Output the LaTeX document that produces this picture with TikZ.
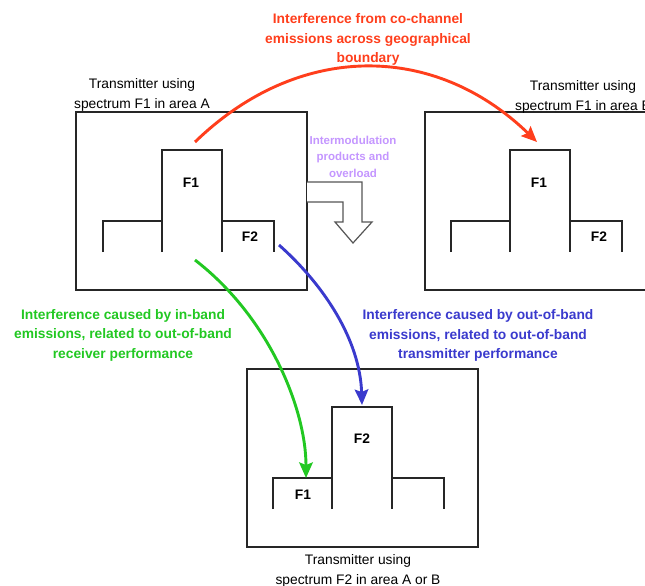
\documentclass[tikz,border=0pt]{standalone}
\usepackage{fontspec}
\setmainfont{Liberation Sans}
\usetikzlibrary{arrows.meta}
\definecolor{cochan}{RGB}{255,62,28}
\definecolor{inband}{RGB}{34,200,34}
\definecolor{outband}{RGB}{58,58,205}
\definecolor{intermod}{RGB}{196,150,255}
\definecolor{hollowgray}{RGB}{85,85,85}
\tikzset{
  spectrum/.pic={
    \draw[specline] (0,0)--(0,-31)--(59,-31)
                    (59,0)--(59,-102)--(119,-102)--(119,0)
                    (119,-31)--(171,-31)--(171,0);
  }
}
\begin{document}
\begin{tikzpicture}[x=1pt,y=-1pt,
  frame/.style={draw=black!85, line width=1.3pt, minimum width=231pt,
                minimum height=178pt, inner sep=0pt},
  caption/.style={align=center, font=\fontsize{13.8}{20}\selectfont},
  note/.style={align=center, font=\bfseries\fontsize{13.8}{19.5}\selectfont},
  smallnote/.style={align=center, font=\bfseries\fontsize{11.5}{16.5}\selectfont},
  flabel/.style={font=\bfseries\fontsize{13.8}{16}\selectfont},
  specline/.style={draw=black!85, line width=1.3pt},
  link/.style={line width=2.9pt, -{Stealth[length=15.5pt,width=13.5pt,inset=2.5pt]}}
]
\useasboundingbox (0,0) rectangle (645,586);
\clip (0,0) rectangle (645,586);

% transmitter frames
\node[frame] (boxA) at (191.5,201) {};
\node[frame] (boxB) at (540.5,201) {};
\node[frame] (boxC) at (362.5,458) {};

% captions
\node[caption] (capA) at (142,95) {Transmitter using\\spectrum F1 in area A};
\node[caption] (capB) at (583,97) {Transmitter using\\spectrum F1 in area B};
\node[caption] (capC) at (358,571) {Transmitter using\\spectrum F2 in area A or B};

% spectrum masks
\pic at (103,252) {spectrum};
\pic at (451,252) {spectrum};
\pic at (273,509) {spectrum};

\node[flabel] (a1) at (191,183) {F1};
\node[flabel] (a2) at (250,237) {F2};
\node[flabel] (b1) at (539,183) {F1};
\node[flabel] (b2) at (599,237) {F2};
\node[flabel] (c2) at (362,439) {F2};
\node[flabel] (c1) at (303,495) {F1};

% hollow bent arrow: intermodulation
\draw[draw=hollowgray, fill=white, line width=1.2pt, line join=miter]
  (307,182)--(362,182)--(362,222)--(372,222)--(353,243)--(335,222)
  --(343,222)--(343,202)--(307,202);
\node[smallnote, text=intermod] (imd) at (353,156.5)
  {Intermodulation\\products and\\overload};

% explanatory notes
\node[note, text=cochan] (coText) at (368,39.5)
  {Interference from co-channel\\emissions across geographical\\boundary};
\node[note, text=inband] (ibText) at (123,335)
  {Interference caused by in-band\\emissions, related to out-of-band\\receiver performance};
\node[note, text=outband] (obText) at (478,335.5)
  {Interference caused by out-of-band\\emissions, related to out-of-band\\transmitter performance};

% interference paths
\coordinate (redA) at (195,142);
\coordinate (redB) at (537,142);
\coordinate (grnA) at (195,260);
\coordinate (grnC) at (306,478);
\coordinate (bluA) at (279,245);
\coordinate (bluC) at (362,405);

\draw[link, draw=cochan] (redA) .. controls (298,42) and (434,42) .. (redB);
\draw[link, draw=inband] (grnA) .. controls (270,318) and (306,410) .. (grnC);
\draw[link, draw=outband] (bluA) .. controls (324,285) and (360,340) .. (bluC);
\end{tikzpicture}
\end{document}
